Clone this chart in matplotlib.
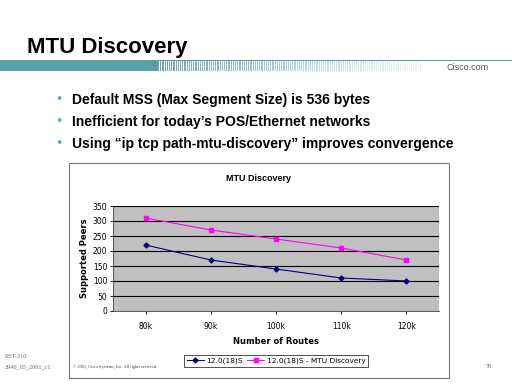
import matplotlib
matplotlib.use('Agg')
import matplotlib.pyplot as plt
from matplotlib.patches import Rectangle
import numpy as np

# chart data
routes = ['80k', '90k', '100k', '110k', '120k']
peers_default = [220, 170, 140, 110, 100]
peers_mtu = [310, 270, 240, 210, 170]
series_names = ['12.0(18)S', '12.0(18)S - MTU Discovery']
yticks = [0, 50, 100, 150, 200, 250, 300, 350]

bullets = ['Default MSS (Max Segment Size) is 536 bytes',
           'Inefficient for today\u2019s POS/Ethernet networks',
           'Using \u201cip tcp path-mtu-discovery\u201d improves convergence']

W, H = 512, 384
fig = plt.figure(figsize=(5.12, 3.84), dpi=100)
fig.patch.set_facecolor('white')

def fx(x):
    return x / W

def fy(y):
    return 1 - y / H

teal = '#5b9ea6'

# slide header
fig.text(fx(27), fy(47), 'MTU Discovery', fontsize=16, fontweight='bold',
         family='Liberation Sans', va='center', ha='left')
fig.patches.append(Rectangle((0, fy(71)), fx(158), (71 - 61) / H,
                             transform=fig.transFigure, color=teal, lw=0))
fig.patches.append(Rectangle((0, fy(61)), 1, 1.2 / H,
                             transform=fig.transFigure, color=teal, lw=0))
# fading stripes
for x in np.arange(158, 422, 2.2):
    a = 0.9 * (1 - (x - 158) / 280)
    fig.patches.append(Rectangle((fx(x), fy(71)), 1.2 / W, 9.5 / H,
                                 transform=fig.transFigure, color=teal,
                                 alpha=max(a, 0.12), lw=0))
fig.text(fx(489), fy(68), 'Cisco.com', fontsize=6.5, color='#555555',
         family='Liberation Sans', ha='right', va='center')

# bullets
for i, b in enumerate(bullets):
    y = 100 + 22 * i
    fig.text(fx(59), fy(y), '\u2022', fontsize=9, color='#3fb3b8',
             ha='center', va='center')
    fig.text(fx(72), fy(y), b, fontsize=10, fontweight='bold',
             family='Liberation Sans', ha='left', va='center')

# chart frame
fig.patches.append(Rectangle((fx(69), fy(378)), fx(449 - 69), (378 - 163) / H,
                             transform=fig.transFigure, fill=False,
                             ec='#777777', lw=0.8))
fig.text(fx(258), fy(179), 'MTU Discovery', fontsize=6.5, fontweight='bold',
         family='Liberation Sans', ha='center', va='center')

ax = fig.add_axes([fx(113), fy(311), fx(439 - 113), (311 - 206) / H])
ax.set_facecolor('#c0c0c0')
x = np.arange(len(routes))
ax.plot(x, peers_default, color='#000080', marker='D', markersize=2.5,
        lw=0.8, label=series_names[0])
ax.plot(x, peers_mtu, color='#ff00ff', marker='s', markersize=3,
        lw=0.8, label=series_names[1])
ax.set_xlim(-0.5, len(routes) - 0.5)
ax.set_ylim(0, 350)
ax.set_yticks(yticks)
ax.set_xticks(x)
ax.set_xticklabels(routes)
ax.yaxis.grid(True, color='black', lw=0.8)
ax.set_axisbelow(True)
ax.tick_params(labelsize=5.5, length=2, width=0.6, pad=2)
ax.tick_params(axis='x', pad=6)
for s in ['top', 'right']:
    ax.spines[s].set_visible(False)
for s in ['left', 'bottom']:
    ax.spines[s].set_color('#444444')
    ax.spines[s].set_linewidth(0.6)
ax.set_xlabel('Number of Routes', fontsize=6, fontweight='bold', labelpad=4)
ax.set_ylabel('Supported Peers', fontsize=6, fontweight='bold', labelpad=3)
leg = fig.legend(loc='center', bbox_to_anchor=(fx(276), fy(361)), ncol=2,
                 fontsize=5.3, frameon=True, fancybox=False, handlelength=2.3,
                 columnspacing=0.7, handletextpad=0.3, borderpad=0.3)
leg.get_frame().set_edgecolor('black')
leg.get_frame().set_linewidth(0.6)

# footer
fig.text(fx(5), fy(357), 'RST-310', fontsize=4.5, color='#666666',
         family='Liberation Serif', va='center')
fig.text(fx(5), fy(367), '2946_05_2001_c1', fontsize=4.5, color='#666666',
         family='Liberation Serif', va='center')
fig.text(fx(73), fy(367), '\u00a9 2001, Cisco Systems, Inc. All rights reserved.',
         fontsize=3.2, color='#444444', family='Liberation Serif', va='center')
fig.text(fx(492), fy(367), '76', fontsize=4.5, color='#666666',
         family='Liberation Serif', va='center', ha='right')

fig.savefig('out.png', dpi=100)
